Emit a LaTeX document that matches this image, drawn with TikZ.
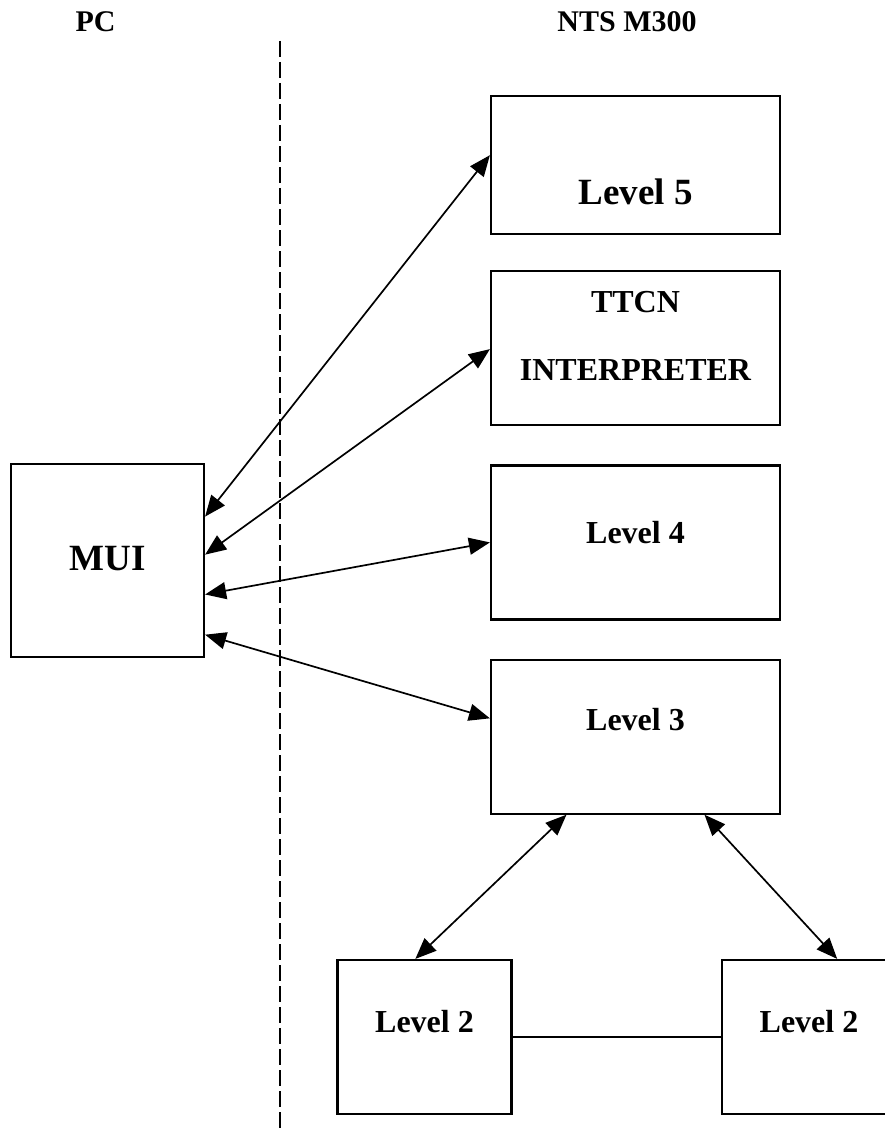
\documentclass[tikz,border=0pt]{standalone}
\usepackage{fontspec}
\setmainfont{Liberation Serif}
\usetikzlibrary{arrows.meta, positioning, calc}

\begin{document}
\begin{tikzpicture}[
  x=1pt, y=-1pt,
  node distance=38pt,
  box/.style={rectangle, draw, line width=2.2pt, minimum width=289pt,
              minimum height=154pt, inner sep=0pt},
  smallbox/.style={box, minimum width=174pt},
  big/.style={font=\bfseries\fontsize{37}{44}\selectfont},
  txt/.style={font=\bfseries\fontsize{32}{38}\selectfont, align=center},
  head/.style={font=\bfseries\fontsize{30}{36}\selectfont},
  arr/.style={<->, >={Triangle[length=21pt,width=17pt]}, line width=1.7pt},
]
  \useasboundingbox (0,0) rectangle (885,1129);

  % headings and the PC / NTS divide
  \node[head] (pc)  at (95.5,22) {PC};
  \node[head] (nts) at (627,22)  {NTS M300};
  \coordinate (divtop) at (280,41);
  \coordinate (divbot) at (280,1129);
  \draw[line width=1.9pt, dash pattern=on 16pt off 5pt] (divtop) -- (divbot);

  % NTS M300 stack
  \node[box, minimum height=138pt] (l5) at (635.5,165) {};
  \node[box, below=35pt of l5] (ttcn) {};
  \node[box, below=of ttcn] (l4) {};
  \node[box, below=of l4]   (l3) {};
  \node[smallbox] (l2a) at (424.5,1037) {};
  \node[smallbox] (l2b) at (809,1037)   {};

  % PC side
  \node[box, minimum width=193pt, minimum height=193pt] (mui) at (107.5,560.5) {};

  % texts
  \node[big] (t5)   at ([yshift=-27pt]l5.center)  {Level 5};
  \node[txt] (tt)   at ([yshift=12pt]ttcn.center) {TTCN\\[30pt]INTERPRETER};
  \node[txt] (t4)   at ([yshift=10pt]l4.center)   {Level 4};
  \node[txt] (t3)   at ([yshift=17pt]l3.center)   {Level 3};
  \node[txt] (t2a)  at ([yshift=15pt]l2a.center)  {Level 2};
  \node[txt] (t2b)  at ([yshift=15pt]l2b.center)  {Level 2};
  \node[big] (tmui) at ([yshift=2pt]mui.center)   {MUI};

  % links
  \draw[arr] ($(mui.north east)!0.275!(mui.south east)$) -- ($(l5.north west)!0.43!(l5.south west)$);
  \draw[arr] ($(mui.north east)!0.47!(mui.south east)$)  -- ($(ttcn.north west)!0.506!(ttcn.south west)$);
  \draw[arr] ($(mui.north east)!0.674!(mui.south east)$) -- (l4.west);
  \draw[arr] ($(mui.north east)!0.88!(mui.south east)$)  -- ($(l3.north west)!0.383!(l3.south west)$);
  \draw[arr] ($(l3.south west)!0.263!(l3.south east)$)   -- ($(l2a.north west)!0.448!(l2a.north east)$);
  \draw[arr] ($(l3.south west)!0.737!(l3.south east)$)   -- ($(l2b.north west)!0.66!(l2b.north east)$);
  \draw[line width=1.7pt] (l2a) -- (l2b);
\end{tikzpicture}
\end{document}
